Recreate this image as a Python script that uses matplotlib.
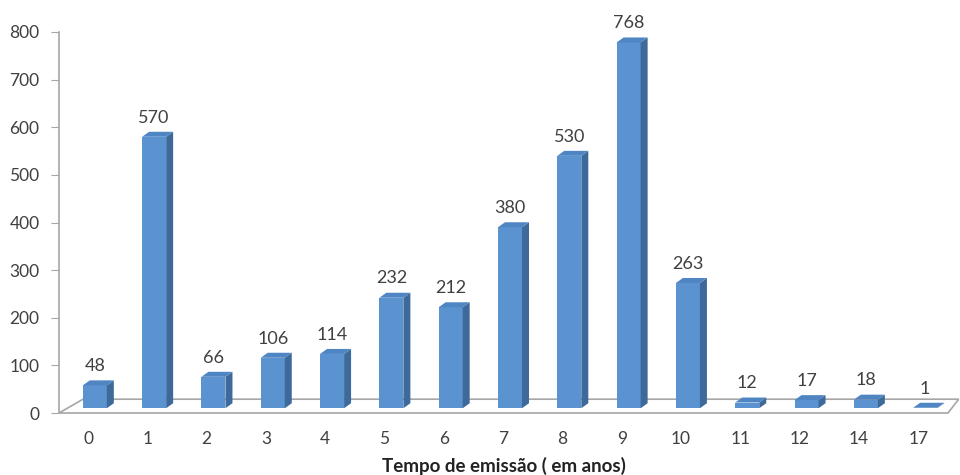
import numpy as np
import matplotlib.pyplot as plt
from matplotlib.patches import Polygon

plt.rcParams['font.family'] = ['Lato', 'DejaVu Sans']

# emission time (years) and counts
categories = ['0', '1', '2', '3', '4', '5', '6', '7', '8', '9', '10', '11', '12', '14', '17']
counts = [48, 570, 66, 106, 114, 232, 212, 380, 530, 768, 263, 12, 17, 18, 1]

FRONT = '#5b93d0'
SIDE = '#3d6a9b'
TOP = '#4f85c2'
GRID = '#a6a6a6'
TXT = '#404040'

fig = plt.figure(figsize=(9.6, 4.75), dpi=100)
ax = fig.add_axes([59/960, 62/475, 889/960, 381/475])

x = np.arange(len(categories))
width = 0.405      # front face width
shift = 0.115      # face centre sits right of the label
dx, dy = 0.118, 10.5   # depth of the pseudo-3d box
base = 10.0        # bars stand on the back part of the floor

# floor
floor = Polygon([(-0.489, 0), (-0.489 + 0.405, 29), (14.68, 29), (14.5, 0)],
                closed=True, facecolor='white', edgecolor=GRID, lw=1.2,
                clip_on=False, zorder=1)
ax.add_patch(floor)

ax.bar(x + shift, counts, width=width, bottom=base, color=FRONT,
       edgecolor='none', zorder=3)
for xi, v in zip(x + shift, counts):
    l, r = xi - width / 2, xi + width / 2
    t = base + v
    ax.add_patch(Polygon([(r, base), (r + dx, base + dy), (r + dx, t + dy), (r, t)],
                         closed=True, facecolor=SIDE, edgecolor='none', zorder=3))
    ax.add_patch(Polygon([(l, t), (l + dx, t + dy), (r + dx, t + dy), (r, t)],
                         closed=True, facecolor=TOP, edgecolor='none', zorder=3))
    ax.annotate(str(v), (xi, t + dy), xytext=(0, 4.5), textcoords='offset points',
                ha='center', va='bottom', fontsize=13, color=TXT)

ax.set_xlim(-0.489, 14.5)
ax.set_ylim(0, 800)
ax.set_yticks(range(0, 801, 100))
ax.set_xticks(x)
ax.set_xticklabels(categories)

for s in ['top', 'right', 'bottom']:
    ax.spines[s].set_visible(False)
ax.spines['left'].set_color(GRID)
ax.spines['left'].set_linewidth(1.2)
ax.tick_params(axis='y', length=6, color=GRID, labelsize=12.5, labelcolor=TXT, pad=8)
ax.tick_params(axis='x', length=0, labelsize=12.5, labelcolor=TXT, pad=13)

ax.set_xlabel('Tempo de emissão ( em anos)', fontsize=13.5, fontweight='bold',
              color='#222222', labelpad=7)

plt.savefig('out.png', dpi=100)
